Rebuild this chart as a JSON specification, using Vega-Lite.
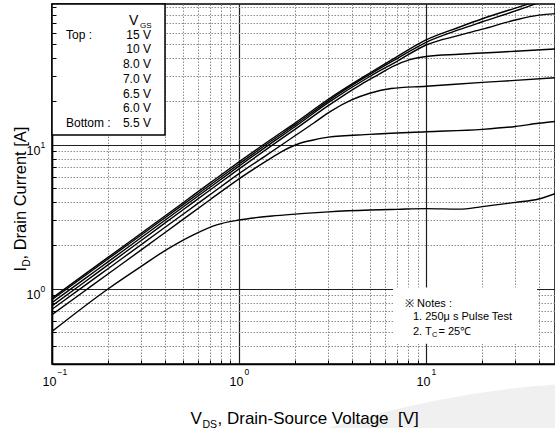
{
  "$schema": "https://vega.github.io/schema/vega-lite/v6.json",
  "width": 503,
  "height": 360,
  "autosize": {"type": "none"},
  "padding": {"left": 52, "top": 4, "right": 0, "bottom": 64},
  "background": "white",
  "config": {
    "font": "Liberation Sans",
    "view": {"stroke": "black", "strokeWidth": 1.5},
    "axis": {"labelColor": "black", "titleColor": "black", "titleFontWeight": "normal", "labelFont": "Liberation Sans", "titleFont": "Liberation Sans"}
  },
  "datasets": {
    "curves": [
      {"vgs": "15 V", "vds": 0.1, "id": 0.86}, {"vgs": "15 V", "vds": 0.15, "id": 1.262}, {"vgs": "15 V", "vds": 0.2, "id": 1.656}, {"vgs": "15 V", "vds": 0.3, "id": 2.43}, {"vgs": "15 V", "vds": 0.5, "id": 3.94}, {"vgs": "15 V", "vds": 0.7, "id": 5.43}, {"vgs": "15 V", "vds": 1, "id": 7.6}, {"vgs": "15 V", "vds": 1.5, "id": 11.0}, {"vgs": "15 V", "vds": 2, "id": 14.2}, {"vgs": "15 V", "vds": 3, "id": 20.7}, {"vgs": "15 V", "vds": 5, "id": 31.5}, {"vgs": "15 V", "vds": 7, "id": 41}, {"vgs": "15 V", "vds": 10, "id": 53.5}, {"vgs": "15 V", "vds": 15, "id": 65.5}, {"vgs": "15 V", "vds": 20, "id": 75}, {"vgs": "15 V", "vds": 30, "id": 89}, {"vgs": "15 V", "vds": 37, "id": 97},
      {"vgs": "10 V", "vds": 0.1, "id": 0.84}, {"vgs": "10 V", "vds": 0.15, "id": 1.23}, {"vgs": "10 V", "vds": 0.2, "id": 1.614}, {"vgs": "10 V", "vds": 0.3, "id": 2.363}, {"vgs": "10 V", "vds": 0.5, "id": 3.82}, {"vgs": "10 V", "vds": 0.7, "id": 5.25}, {"vgs": "10 V", "vds": 1, "id": 7.35}, {"vgs": "10 V", "vds": 1.5, "id": 10.7}, {"vgs": "10 V", "vds": 2, "id": 13.8}, {"vgs": "10 V", "vds": 3, "id": 20.2}, {"vgs": "10 V", "vds": 5, "id": 30.8}, {"vgs": "10 V", "vds": 7, "id": 39.7}, {"vgs": "10 V", "vds": 10, "id": 51.5}, {"vgs": "10 V", "vds": 15, "id": 63}, {"vgs": "10 V", "vds": 20, "id": 71.5}, {"vgs": "10 V", "vds": 30, "id": 85}, {"vgs": "10 V", "vds": 40, "id": 97},
      {"vgs": "8.0 V", "vds": 0.1, "id": 0.8}, {"vgs": "8.0 V", "vds": 0.15, "id": 1.175}, {"vgs": "8.0 V", "vds": 0.2, "id": 1.543}, {"vgs": "8.0 V", "vds": 0.3, "id": 2.267}, {"vgs": "8.0 V", "vds": 0.5, "id": 3.68}, {"vgs": "8.0 V", "vds": 0.7, "id": 5.07}, {"vgs": "8.0 V", "vds": 1, "id": 7.1}, {"vgs": "8.0 V", "vds": 1.5, "id": 10.35}, {"vgs": "8.0 V", "vds": 2, "id": 13.4}, {"vgs": "8.0 V", "vds": 3, "id": 19.6}, {"vgs": "8.0 V", "vds": 5, "id": 29.8}, {"vgs": "8.0 V", "vds": 7, "id": 38}, {"vgs": "8.0 V", "vds": 10, "id": 49.3}, {"vgs": "8.0 V", "vds": 15, "id": 57.5}, {"vgs": "8.0 V", "vds": 20, "id": 63.5}, {"vgs": "8.0 V", "vds": 30, "id": 73.5}, {"vgs": "8.0 V", "vds": 40, "id": 79.5}, {"vgs": "8.0 V", "vds": 48.9, "id": 81.5},
      {"vgs": "7.0 V", "vds": 0.1, "id": 0.76}, {"vgs": "7.0 V", "vds": 0.15, "id": 1.118}, {"vgs": "7.0 V", "vds": 0.2, "id": 1.47}, {"vgs": "7.0 V", "vds": 0.3, "id": 2.163}, {"vgs": "7.0 V", "vds": 0.5, "id": 3.52}, {"vgs": "7.0 V", "vds": 0.7, "id": 4.85}, {"vgs": "7.0 V", "vds": 1, "id": 6.8}, {"vgs": "7.0 V", "vds": 1.5, "id": 9.9}, {"vgs": "7.0 V", "vds": 2, "id": 12.85}, {"vgs": "7.0 V", "vds": 3, "id": 18.7}, {"vgs": "7.0 V", "vds": 4.5, "id": 26.3}, {"vgs": "7.0 V", "vds": 5.5, "id": 30.5}, {"vgs": "7.0 V", "vds": 6.7, "id": 35.2}, {"vgs": "7.0 V", "vds": 8.2, "id": 39}, {"vgs": "7.0 V", "vds": 10, "id": 41}, {"vgs": "7.0 V", "vds": 15, "id": 42.5}, {"vgs": "7.0 V", "vds": 20, "id": 43.4}, {"vgs": "7.0 V", "vds": 30, "id": 44.6}, {"vgs": "7.0 V", "vds": 48.9, "id": 46.3},
      {"vgs": "6.5 V", "vds": 0.1, "id": 0.72}, {"vgs": "6.5 V", "vds": 0.15, "id": 1.055}, {"vgs": "6.5 V", "vds": 0.2, "id": 1.383}, {"vgs": "6.5 V", "vds": 0.3, "id": 2.025}, {"vgs": "6.5 V", "vds": 0.5, "id": 3.28}, {"vgs": "6.5 V", "vds": 0.7, "id": 4.5}, {"vgs": "6.5 V", "vds": 1, "id": 6.3}, {"vgs": "6.5 V", "vds": 1.41, "id": 8.5}, {"vgs": "6.5 V", "vds": 2, "id": 11.6}, {"vgs": "6.5 V", "vds": 2.5, "id": 14.1}, {"vgs": "6.5 V", "vds": 3.07, "id": 17}, {"vgs": "6.5 V", "vds": 4, "id": 20.5}, {"vgs": "6.5 V", "vds": 5, "id": 22.8}, {"vgs": "6.5 V", "vds": 6.5, "id": 24.6}, {"vgs": "6.5 V", "vds": 10, "id": 25.5}, {"vgs": "6.5 V", "vds": 20, "id": 27.1}, {"vgs": "6.5 V", "vds": 30, "id": 28}, {"vgs": "6.5 V", "vds": 48.9, "id": 29.2},
      {"vgs": "6.0 V", "vds": 0.1, "id": 0.66}, {"vgs": "6.0 V", "vds": 0.15, "id": 0.968}, {"vgs": "6.0 V", "vds": 0.2, "id": 1.27}, {"vgs": "6.0 V", "vds": 0.3, "id": 1.86}, {"vgs": "6.0 V", "vds": 0.5, "id": 3.02}, {"vgs": "6.0 V", "vds": 0.7, "id": 4.15}, {"vgs": "6.0 V", "vds": 1, "id": 5.8}, {"vgs": "6.0 V", "vds": 1.41, "id": 7.75}, {"vgs": "6.0 V", "vds": 1.7, "id": 9.0}, {"vgs": "6.0 V", "vds": 2.1, "id": 10.2}, {"vgs": "6.0 V", "vds": 2.5, "id": 10.8}, {"vgs": "6.0 V", "vds": 3, "id": 11.3}, {"vgs": "6.0 V", "vds": 5, "id": 11.8}, {"vgs": "6.0 V", "vds": 10, "id": 12.3}, {"vgs": "6.0 V", "vds": 20, "id": 12.8}, {"vgs": "6.0 V", "vds": 30, "id": 13.4}, {"vgs": "6.0 V", "vds": 40, "id": 14.1}, {"vgs": "6.0 V", "vds": 48.9, "id": 14.5},
      {"vgs": "5.5 V", "vds": 0.1, "id": 0.505}, {"vgs": "5.5 V", "vds": 0.2, "id": 1.0}, {"vgs": "5.5 V", "vds": 0.3, "id": 1.43}, {"vgs": "5.5 V", "vds": 0.41, "id": 1.87}, {"vgs": "5.5 V", "vds": 0.57, "id": 2.37}, {"vgs": "5.5 V", "vds": 0.76, "id": 2.78}, {"vgs": "5.5 V", "vds": 1, "id": 3.0}, {"vgs": "5.5 V", "vds": 1.5, "id": 3.2}, {"vgs": "5.5 V", "vds": 2, "id": 3.3}, {"vgs": "5.5 V", "vds": 3, "id": 3.42}, {"vgs": "5.5 V", "vds": 5, "id": 3.52}, {"vgs": "5.5 V", "vds": 7, "id": 3.56}, {"vgs": "5.5 V", "vds": 10, "id": 3.6}, {"vgs": "5.5 V", "vds": 15, "id": 3.57}, {"vgs": "5.5 V", "vds": 20, "id": 3.72}, {"vgs": "5.5 V", "vds": 30, "id": 3.98}, {"vgs": "5.5 V", "vds": 40, "id": 4.2}, {"vgs": "5.5 V", "vds": 48.9, "id": 4.57}
    ]
  },
  "resolve": {"axis": {"x": "independent", "y": "independent"}},
  "layer": [
    {
      "data": {"values": [{}]},
      "mark": {"type": "point", "shape": "circle", "filled": true, "size": 4186116, "color": "#f0f0f0", "opacity": 1, "strokeWidth": 0},
      "encoding": {
        "x": {"datum": 128, "type": "quantitative", "scale": {"type": "log", "domain": [0.1, 48.9], "nice": false}, "axis": null},
        "y": {"datum": 0.0000000178, "type": "quantitative", "scale": {"type": "log", "domain": [0.3, 95], "nice": false}, "axis": null}
      }
    },
    {
      "data": {"name": "curves"},
      "mark": {"type": "line", "color": "black", "strokeWidth": 1.4, "interpolate": "monotone", "clip": true},
      "encoding": {
        "x": {
          "field": "vds", "type": "quantitative",
          "scale": {"type": "log", "domain": [0.1, 48.9], "nice": false},
          "axis": {
            "orient": "bottom",
            "values": [0.1, 0.2, 0.3, 0.4, 0.5, 0.6, 0.7, 0.8, 0.9, 1, 2, 3, 4, 5, 6, 7, 8, 9, 10, 20, 30, 40],
            "grid": true,
            "gridColor": {"condition": {"test": "abs(log(datum.value)/LN10 - round(log(datum.value)/LN10)) < 0.001", "value": "#1e1e1e"}, "value": "#8c8c8c"},
            "gridDash": {"condition": {"test": "abs(log(datum.value)/LN10 - round(log(datum.value)/LN10)) < 0.001", "value": []}, "value": [1.5, 1.5]},
            "gridWidth": {"condition": {"test": "abs(log(datum.value)/LN10 - round(log(datum.value)/LN10)) < 0.001", "value": 1.2}, "value": 1},
            "ticks": false,
            "domainColor": "black", "domainWidth": 1.5,
            "labelExpr": "abs(log(datum.value)/LN10 - round(log(datum.value)/LN10)) < 0.001 ? '10' : ''",
            "labelFontSize": 12.5, "labelAlign": "center", "labelBaseline": "middle", "labelPadding": 17, "labelOffset": -3,
            "labelFlush": false, "labelOverlap": false,
            "title": "V", "titleFontSize": 17, "titleX": 138, "titleY": 59, "titleAlign": "left", "titleBaseline": "alphabetic", "titleAnchor": "start"
          }
        },
        "y": {
          "field": "id", "type": "quantitative",
          "scale": {"type": "log", "domain": [0.3, 95], "nice": false},
          "axis": {
            "orient": "left",
            "values": [0.3, 0.4, 0.5, 0.6, 0.7, 0.8, 0.9, 1, 2, 3, 4, 5, 6, 7, 8, 9, 10, 20, 30, 40, 50, 60, 70, 80, 90],
            "grid": true,
            "gridColor": {"condition": {"test": "abs(log(datum.value)/LN10 - round(log(datum.value)/LN10)) < 0.001", "value": "#1e1e1e"}, "value": "#8c8c8c"},
            "gridDash": {"condition": {"test": "abs(log(datum.value)/LN10 - round(log(datum.value)/LN10)) < 0.001", "value": []}, "value": [1.5, 1.5]},
            "gridWidth": {"condition": {"test": "abs(log(datum.value)/LN10 - round(log(datum.value)/LN10)) < 0.001", "value": 1.2}, "value": 1},
            "ticks": false,
            "domainColor": "black", "domainWidth": 1.5,
            "labelExpr": "abs(log(datum.value)/LN10 - round(log(datum.value)/LN10)) < 0.001 ? '10' : ''",
            "labelFontSize": 12.5, "labelAlign": "right", "labelBaseline": "middle", "labelPadding": 12, "labelOffset": 6,
            "labelFlush": false, "labelOverlap": false,
            "title": "I", "titleFontSize": 16.5, "titleAngle": 270, "titleX": -27, "titleY": 267, "titleAlign": "left", "titleBaseline": "alphabetic", "titleAnchor": "start"
          }
        },
        "detail": {"field": "vgs", "type": "nominal"}
      }
    },
    {
      "data": {"values": [{}]},
      "mark": {"type": "rect", "fill": "white", "stroke": "black", "strokeWidth": 1.5},
      "encoding": {
        "x": {
          "datum": 0.1, "type": "quantitative",
          "axis": {
            "orient": "bottom",
            "values": [0.1, 1, 10], "grid": false, "ticks": false, "domain": false,
            "labelExpr": "format(round(log(datum.value)/LN10), 'd')",
            "labelFontSize": 8.5, "labelAlign": "left", "labelBaseline": "middle", "labelPadding": 7, "labelOffset": 5,
            "labelFlush": false, "labelOverlap": false,
            "title": "DS", "titleFontSize": 10.5, "titleX": 150, "titleY": 63, "titleAlign": "left", "titleBaseline": "alphabetic", "titleAnchor": "start"
          }
        },
        "x2": {"datum": 0.402},
        "y": {
          "datum": 95, "type": "quantitative",
          "axis": {
            "orient": "left",
            "values": [1, 10], "grid": false, "ticks": false, "domain": false,
            "labelExpr": "format(round(log(datum.value)/LN10), 'd')",
            "labelFontSize": 8.5, "labelAlign": "left", "labelBaseline": "middle", "labelPadding": 12, "labelOffset": 0,
            "labelFlush": false, "labelOverlap": false,
            "title": "D", "titleFontSize": 10, "titleAngle": 270, "titleX": -23, "titleY": 262, "titleAlign": "left", "titleBaseline": "alphabetic", "titleAnchor": "start"
          }
        },
        "y2": {"datum": 11.7}
      }
    },
    {
      "data": {"values": [{}]},
      "mark": {"type": "rect", "fill": "white", "strokeWidth": 0},
      "encoding": {
        "x": {
          "datum": 6.66, "type": "quantitative",
          "axis": {
            "orient": "bottom", "zindex": 1,
            "values": [0.2, 0.3, 0.4, 0.5, 0.6, 0.7, 0.8, 0.9, 2, 3, 4, 5, 6, 7, 8, 9, 20, 30, 40],
            "grid": false, "ticks": true, "tickSize": -4, "tickColor": "black", "tickWidth": 1, "labels": false, "domain": false,
            "title": "\u00a0, Drain-Source Voltage \u00a0[V]", "titleFontSize": 17, "titleX": 165, "titleY": 59, "titleAlign": "left", "titleBaseline": "alphabetic", "titleAnchor": "start"
          }
        },
        "x2": {"datum": 39.2},
        "y": {
          "datum": 1.02, "type": "quantitative",
          "axis": {
            "orient": "left", "zindex": 1,
            "values": [0.3, 0.4, 0.5, 0.6, 0.7, 0.8, 0.9, 2, 3, 4, 5, 6, 7, 8, 9, 20, 30, 40, 50, 60, 70, 80, 90],
            "grid": false, "ticks": true, "tickSize": -4, "tickColor": "black", "tickWidth": 1, "labels": false, "domain": false,
            "title": "\u00a0, Drain Current [A]", "titleFontSize": 16.5, "titleAngle": 270, "titleX": -27, "titleY": 255, "titleAlign": "left", "titleBaseline": "alphabetic", "titleAnchor": "start"
          }
        },
        "y2": {"datum": 0.415}
      }
    },
    {
      "data": {"values": [{}]},
      "mark": {"type": "text", "fontSize": 14, "align": "left", "baseline": "alphabetic", "color": "black"},
      "encoding": {
        "x": {"datum": 0.258, "type": "quantitative", "axis": null},
        "y": {"datum": 68.1, "type": "quantitative", "axis": null},
        "text": {"value": "V"}
      }
    },
    {
      "data": {"values": [{}]},
      "mark": {"type": "text", "fontSize": 8, "align": "left", "baseline": "alphabetic", "color": "black"},
      "encoding": {
        "x": {"datum": 0.2955, "type": "quantitative", "axis": null},
        "y": {"datum": 64.5, "type": "quantitative", "axis": null},
        "text": {"value": "GS"}
      }
    },
    {
      "data": {"values": [{}]},
      "mark": {"type": "text", "fontSize": 12, "align": "right", "baseline": "alphabetic", "lineHeight": 14.7, "color": "black"},
      "encoding": {
        "x": {"datum": 0.338, "type": "quantitative", "axis": null},
        "y": {"datum": 54.5, "type": "quantitative", "axis": null},
        "text": {"value": ["15 V", "10 V", "8.0 V", "7.0 V", "6.5 V", "6.0 V", "5.5 V"]}
      }
    },
    {
      "data": {"values": [{}]},
      "mark": {"type": "text", "fontSize": 12, "align": "left", "baseline": "alphabetic", "color": "black"},
      "encoding": {
        "x": {"datum": 0.1188, "type": "quantitative", "axis": null},
        "y": {"datum": 54.5, "type": "quantitative", "axis": null},
        "text": {"value": "Top :"}
      }
    },
    {
      "data": {"values": [{}]},
      "mark": {"type": "text", "fontSize": 12, "align": "left", "baseline": "alphabetic", "dy": 88.2, "color": "black"},
      "encoding": {
        "x": {"datum": 0.1188, "type": "quantitative", "axis": null},
        "y": {"datum": 54.5, "type": "quantitative", "axis": null},
        "text": {"value": "Bottom :"}
      }
    },
    {
      "data": {"values": [{}]},
      "mark": {"type": "text", "fontSize": 11, "align": "left", "baseline": "alphabetic", "color": "black"},
      "encoding": {
        "x": {"datum": 7.72, "type": "quantitative", "axis": null},
        "y": {"datum": 0.75, "type": "quantitative", "axis": null},
        "text": {"value": "※ Notes :"}
      }
    },
    {
      "data": {"values": [{}]},
      "mark": {"type": "text", "fontSize": 11, "align": "left", "baseline": "alphabetic", "color": "black"},
      "encoding": {
        "x": {"datum": 8.51, "type": "quantitative", "axis": null},
        "y": {"datum": 0.609, "type": "quantitative", "axis": null},
        "text": {"value": "1. 250μ s Pulse Test"}
      }
    },
    {
      "data": {"values": [{}]},
      "mark": {"type": "text", "fontSize": 11, "align": "left", "baseline": "alphabetic", "color": "black"},
      "encoding": {
        "x": {"datum": 8.51, "type": "quantitative", "axis": null},
        "y": {"datum": 0.479, "type": "quantitative", "axis": null},
        "text": {"value": "2. T"}
      }
    },
    {
      "data": {"values": [{}]},
      "mark": {"type": "text", "fontSize": 7.5, "align": "left", "baseline": "alphabetic", "dx": 19, "dy": 2.5, "color": "black"},
      "encoding": {
        "x": {"datum": 8.51, "type": "quantitative", "axis": null},
        "y": {"datum": 0.479, "type": "quantitative", "axis": null},
        "text": {"value": "C"}
      }
    },
    {
      "data": {"values": [{}]},
      "mark": {"type": "text", "fontSize": 11, "align": "left", "baseline": "alphabetic", "dx": 25.5, "color": "black"},
      "encoding": {
        "x": {"datum": 8.51, "type": "quantitative", "axis": null},
        "y": {"datum": 0.479, "type": "quantitative", "axis": null},
        "text": {"value": "= 25℃"}
      }
    }
  ]
}
